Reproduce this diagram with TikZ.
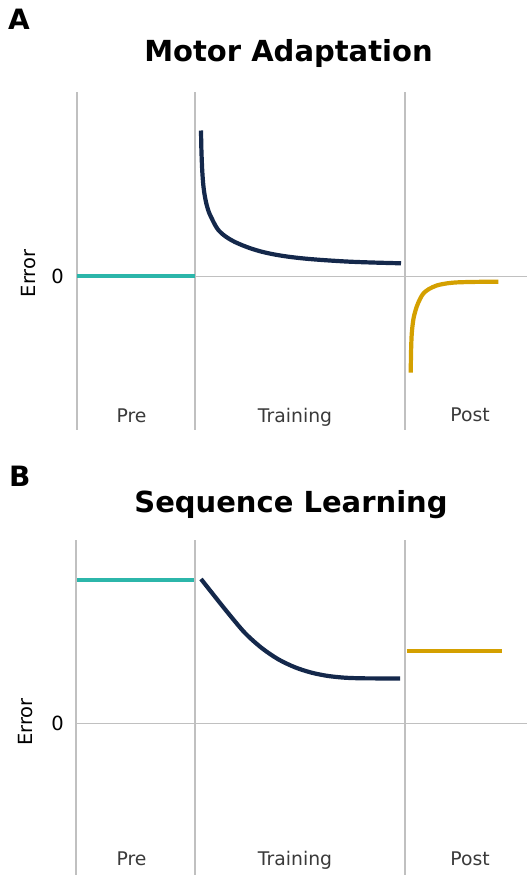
\documentclass[tikz,border=0pt]{standalone}
\usepackage{fontspec}
\setmainfont{DejaVu Sans}
\definecolor{gridgray}{RGB}{192,192,192}
\definecolor{preteal}{RGB}{44,182,170}
\definecolor{trainnavy}{RGB}{20,40,75}
\definecolor{postgold}{RGB}{212,160,0}
\definecolor{ticktext}{RGB}{58,58,58}
\begin{document}
\begin{tikzpicture}[x=1pt,y=-1pt,
  grid/.style={draw=gridgray,line width=1.4pt},
  curve/.style={line width=4.2pt,line cap=butt},
  paneltitle/.style={anchor=base,font=\fontsize{29}{33}\selectfont\bfseries,inner sep=0pt},
  panelletter/.style={anchor=base west,font=\fontsize{28}{32}\selectfont\bfseries,inner sep=0pt},
  ticklabel/.style={anchor=base,font=\fontsize{18.8}{22}\selectfont,text=ticktext,inner sep=0pt},
  zerolabel/.style={font=\fontsize{19.5}{22}\selectfont,inner sep=0pt},
  axislabel/.style={rotate=90,font=\fontsize{19.5}{22}\selectfont,inner sep=0pt}]
\useasboundingbox (0,0) rectangle (527,875);

% ---------- Panel A: motor adaptation ----------
\node[panelletter] (letA) at (8,29.5) {A};
\node[paneltitle] (titleA) at (288.5,62) {Motor Adaptation};

\coordinate (a1t) at (77,92);  \coordinate (a1b) at (77,430);
\coordinate (a2t) at (195,92); \coordinate (a2b) at (195,430);
\coordinate (a3t) at (405,92); \coordinate (a3b) at (405,430);
\coordinate (a0l) at (77,276.5); \coordinate (a0r) at (527,276.5);
\draw[grid] (a1t) -- (a1b);
\draw[grid] (a2t) -- (a2b);
\draw[grid] (a3t) -- (a3b);
\draw[grid] (a0l) -- (a0r);

\coordinate (apreL) at (77,275.8); \coordinate (apreR) at (195,275.8);
\draw[curve,preteal] (apreL) -- (apreR);
\draw[curve,trainnavy] plot[smooth,tension=0.5] coordinates {
  (201,130.5) (201.4,150) (202.2,170) (203.3,185) (204.8,196) (206.7,205)
  (209,212.5) (211.7,218.3) (214.8,224.5) (218.3,230) (223,234.5)
  (228.3,238.3) (234.5,241.8) (241.7,245) (251,248.5) (261.7,251.7)
  (274,254.4) (288.3,256.7) (305,258.6) (325,260.2) (350,261.7)
  (375,262.6) (401,263.3)};
\draw[curve,postgold] plot[smooth,tension=0.5] coordinates {
  (410.7,372.7) (411.1,350) (411.8,333) (413.6,318) (416.7,306.7)
  (420,299) (423.5,293.3) (429,289) (436.7,285.5) (446,283.5)
  (456.7,282.4) (475,281.9) (498.3,281.7)};

\node[zerolabel] (zeroA) at (57.5,276) {0};
\node[axislabel] (errA) at (28.5,273.5) {Error};
\node[ticklabel] (preA) at (131.5,422.5) {Pre};
\node[ticklabel] (trainA) at (295,422.5) {Training};
\node[ticklabel] (postA) at (470,421.8) {Post};

% ---------- Panel B: sequence learning ----------
\node[panelletter] (letB) at (9,486) {B};
\node[paneltitle] (titleB) at (291,512) {Sequence Learning};

\coordinate (b1t) at (76,540);  \coordinate (b1b) at (76,875);
\coordinate (b2t) at (195,540); \coordinate (b2b) at (195,875);
\coordinate (b3t) at (405,540); \coordinate (b3b) at (405,875);
\coordinate (b0l) at (76,723.3); \coordinate (b0r) at (527,723.3);
\draw[grid] (b1t) -- (b1b);
\draw[grid] (b2t) -- (b2b);
\draw[grid] (b3t) -- (b3b);
\draw[grid] (b0l) -- (b0r);

\coordinate (bpreL) at (77,580.3); \coordinate (bpreR) at (193.5,580.3);
\draw[curve,preteal] (bpreL) -- (bpreR);
\draw[curve,trainnavy] plot[smooth,tension=0.5] coordinates {
  (201,579) (215,596.7) (228.3,613.3) (245,633) (261.7,648)
  (278.3,659.3) (295,667.3) (311.7,672.7) (328.3,676) (345,677.7)
  (361.7,678.3) (380,678.4) (400,678.4)};
\coordinate (bpostL) at (406.7,650.7); \coordinate (bpostR) at (501.7,650.7);
\draw[curve,postgold] (bpostL) -- (bpostR);

\node[zerolabel] (zeroB) at (57.5,723) {0};
\node[axislabel] (errB) at (26,722) {Error};
\node[ticklabel] (preB) at (131.5,865.5) {Pre};
\node[ticklabel] (trainB) at (295,865.5) {Training};
\node[ticklabel] (postB) at (470,865) {Post};
\end{tikzpicture}
\end{document}
